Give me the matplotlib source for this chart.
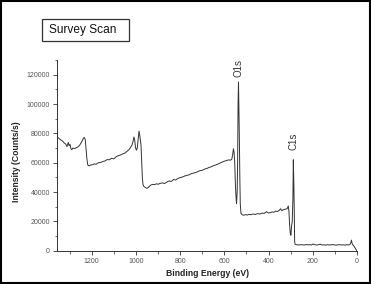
import matplotlib
matplotlib.use("Agg")
import matplotlib.pyplot as plt
from matplotlib.patches import Rectangle
from matplotlib.ticker import MultipleLocator

plt.rcParams['font.family'] = ['Liberation Sans', 'DejaVu Sans']

binding_energy = [1355, 1348, 1340, 1332, 1325, 1318, 1312, 1306, 1302, 1298, 1294, 1290, 1285, 1278,
                  1270, 1262, 1255, 1248, 1242, 1237, 1233, 1229, 1226, 1222, 1218, 1212, 1205, 1196,
                  1188, 1180, 1170, 1160, 1150, 1140, 1130, 1120, 1110, 1100, 1090, 1080, 1070, 1060,
                  1050, 1040, 1032, 1025, 1018, 1013, 1009, 1006, 1002, 998, 994, 990, 986, 983, 980,
                  977, 974, 971, 968, 964, 958, 952, 946, 940, 932, 924, 916, 908, 900, 890, 880, 870,
                  860, 850, 840, 830, 820, 810, 800, 790, 780, 770, 760, 750, 740, 730, 720, 710, 700,
                  690, 680, 670, 660, 650, 640, 630, 620, 610, 600, 590, 580, 572, 566, 562, 559, 556,
                  553, 550, 547, 545, 542, 540, 538, 536, 534, 532, 530, 528, 525, 520, 512, 504, 496,
                  488, 480, 470, 460, 450, 440, 430, 420, 410, 400, 392, 384, 376, 368, 360, 352, 346,
                  340, 332, 324, 316, 311, 308, 305, 302, 299, 296, 293, 290, 288, 286, 284, 282, 280,
                  276, 270, 262, 254, 246, 238, 230, 222, 214, 206, 198, 190, 182, 174, 166, 158, 150,
                  142, 134, 126, 118, 110, 102, 94, 86, 78, 70, 62, 54, 46, 38, 32, 28, 25, 22, 18, 14,
                  10, 6, 3, 0]
intensity = [77500, 76500, 75500, 74800, 73500, 72800, 71000, 73800, 71500, 72500, 69500, 68800, 70000,
             69600, 70200, 70800, 71800, 73500, 75200, 76800, 77200, 75500, 70000, 63000, 58500, 57800,
             58400, 58600, 59200, 58900, 60000, 60100, 60800, 61200, 62100, 62000, 63000, 62600, 64000,
             64800, 65200, 66000, 66500, 67800, 68800, 70200, 72000, 74500, 77500, 76000, 70500, 68500,
             70000, 76000, 81500, 79000, 75500, 72000, 60000, 50000, 45000, 43800, 43200, 42600, 42800,
             43800, 44800, 45200, 45000, 45600, 45300, 45900, 46200, 45800, 46800, 47600, 47200, 48500,
             48200, 49300, 49800, 50200, 50900, 51300, 51700, 52500, 52900, 53300, 53900, 54600, 54800,
             55600, 56000, 56700, 57200, 57900, 58400, 59000, 59700, 60400, 61000, 61500, 61900, 61700,
             62500, 66000, 69500, 67000, 60000, 45000, 36000, 32000, 40000, 60000, 100000, 115000, 96000,
             75000, 50000, 32000, 25500, 24500, 24200, 24600, 24300, 24800, 24500, 25000, 24700, 25300,
             25000, 25600, 25400, 26600, 25700, 26000, 26400, 26200, 27000, 26700, 27500, 28600, 27300,
             28000, 28300, 28600, 30500, 27000, 18000, 12000, 10500, 17000, 19500, 35000, 62000, 48000,
             30000, 6000, 4400, 4200, 4000, 3900, 4100, 4000, 3900, 4200, 4000, 4100, 3900, 4600, 4000,
             3900, 4100, 4400, 3900, 4000, 3800, 4100, 3900, 4000, 4200, 3900, 3800, 4000, 4100, 3900,
             4000, 3800, 4100, 3900, 4200, 5500, 7200, 4800, 3800, 3200, 2200, 1200, 500, 0]

peak_labels = ["O1s", "C1s"]
peak_positions = [537, 289]
peak_label_heights = [118400, 68600]
title_text = "Survey Scan"
x_label = "Binding Energy (eV)"
y_label = "Intensity (Counts/s)"

W, H = 371, 284
fig = plt.figure(figsize=(W / 100, H / 100), dpi=100)
ax = fig.add_axes([57 / W, 1 - 250.7 / H, 300 / W, 190.7 / H])

ax.plot(binding_energy, intensity, color='#333333', lw=0.7)
ax.set_xlim(1357, 0)
ax.set_ylim(0, 130000)

for s in ['top', 'right']:
    ax.spines[s].set_visible(False)
for s in ['left', 'bottom']:
    ax.spines[s].set_linewidth(0.7)
    ax.spines[s].set_color('#333333')

ax.xaxis.set_major_locator(MultipleLocator(200))
ax.xaxis.set_minor_locator(MultipleLocator(100))
ax.yaxis.set_major_locator(MultipleLocator(20000))
ax.yaxis.set_minor_locator(MultipleLocator(10000))
ax.tick_params(which='major', direction='out', length=3, width=0.6, color='#333333',
               labelsize=5, labelcolor='#555555', pad=2)
ax.tick_params(which='minor', direction='out', length=1.8, width=0.5, color='#333333')

ax.set_xlabel(x_label, fontsize=6.2, fontweight='bold', color='#222222', labelpad=3)
ax.set_ylabel(y_label, fontsize=6.2, fontweight='bold', color='#222222')
ax.yaxis.set_label_coords(-0.12, 0.465)

for lab, pos, h in zip(peak_labels, peak_positions, peak_label_heights):
    ax.text(pos, h, lab, rotation=90, ha='center', va='bottom', fontsize=7, color='#333333')

fig.patches.append(Rectangle((42 / W, 1 - 40.5 / H), 86.5 / W, 21 / H, transform=fig.transFigure,
                             fill=False, ec='#333333', lw=0.9))
fig.text(83 / W, 1 - 29.5 / H, title_text, ha='center', va='center', fontsize=8.6, color='#111111')

fig.patches.append(Rectangle((0.5 / W, 1.0 / H), 1 - 2 / W, 1 - 1.5 / H, transform=fig.transFigure,
                             fill=False, ec='black', lw=1.5))

fig.savefig('out.png', dpi=100)
